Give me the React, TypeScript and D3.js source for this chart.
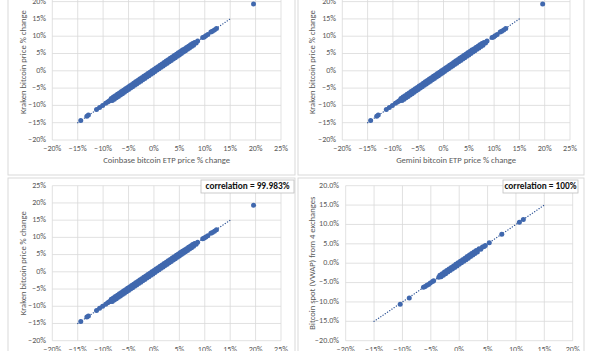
import * as d3 from "d3";

// % changes: [x, y]
const krakenVsCoinbase: [number, number][] = [
  [-14.4, -14.4], [-13.2, -13.1], [-12.9, -12.8], [-11.3, -11.2], [-10.7, -10.6],
  [-10.1, -10.0], [-9.5, -9.4], [-9.1, -9.0], [-8.8, -8.7],
  [-8.6, -8.6], [-8.4, -8.0], [-8.2, -8.6], [-8.0, -7.6], [-7.8, -8.2], [-7.6, -7.2],
  [-7.4, -7.8], [-7.2, -6.8], [-7.0, -7.4], [-6.8, -6.4], [-6.6, -7.0], [-6.4, -6.0],
  [-6.2, -6.6], [-6.0, -5.6], [-5.8, -6.2], [-5.6, -5.2], [-5.4, -5.8], [-5.2, -4.8],
  [-5.0, -5.4], [-4.8, -4.4], [-4.6, -5.0], [-4.4, -4.0], [-4.2, -4.6], [-4.0, -3.6],
  [-3.8, -4.2], [-3.6, -3.2], [-3.4, -3.8], [-3.2, -2.8], [-3.0, -3.4], [-2.8, -2.4],
  [-2.6, -3.0], [-2.4, -2.0], [-2.2, -2.6], [-2.0, -1.6], [-1.8, -2.2], [-1.6, -1.2],
  [-1.4, -1.8], [-1.2, -0.8], [-1.0, -1.4], [-0.8, -0.4], [-0.6, -1.0], [-0.4, 0.0],
  [-0.2, -0.6], [0.0, 0.4], [0.2, -0.2], [0.4, 0.8], [0.6, 0.2], [0.8, 1.2], [1.0, 0.6],
  [1.2, 1.6], [1.4, 1.0], [1.6, 2.0], [1.8, 1.4], [2.0, 2.4], [2.2, 1.8], [2.4, 2.8],
  [2.6, 2.2], [2.8, 3.2], [3.0, 2.6], [3.2, 3.6], [3.4, 3.0], [3.6, 4.0], [3.8, 3.4],
  [4.0, 4.4], [4.2, 3.8], [4.4, 4.8], [4.6, 4.2], [4.8, 5.2], [5.0, 4.6], [5.2, 5.6],
  [5.4, 5.0], [5.6, 6.0], [5.8, 5.4], [6.0, 6.3], [6.2, 5.8], [6.4, 6.7], [6.6, 6.2],
  [6.8, 7.1], [7.0, 6.6], [7.2, 7.5], [7.4, 7.0], [7.6, 7.9], [7.8, 7.4], [8.0, 8.2],
  [8.3, 8.0], [8.6, 8.6],
  [9.6, 9.6], [9.9, 9.8], [10.2, 10.1], [10.6, 10.5], [11.2, 11.2], [11.5, 11.4],
  [11.9, 11.8], [12.3, 12.2], [19.6, 19.3],
];

// Gemini looks the same as Coinbase at this resolution
const krakenVsGemini = krakenVsCoinbase;

const spotVsExchange: [number, number][] = [
  [-10.4, -10.6], [-8.8, -9.0], [-6.3, -6.2], [-6.0, -6.0], [-5.7, -5.7], [-5.4, -5.5],
  [-5.1, -5.1], [-4.7, -4.7], [-4.5, -4.5],
  [-3.6, -3.6], [-3.4, -3.1], [-3.2, -3.5], [-3.0, -2.7], [-2.8, -3.1], [-2.6, -2.3],
  [-2.4, -2.7], [-2.2, -1.9], [-2.0, -2.3], [-1.8, -1.5], [-1.6, -1.9], [-1.4, -1.1],
  [-1.2, -1.5], [-1.0, -0.7], [-0.8, -1.1], [-0.6, -0.3], [-0.4, -0.7], [-0.2, 0.1],
  [0.0, -0.3], [0.2, 0.5], [0.4, 0.1], [0.6, 0.9], [0.8, 0.5], [1.0, 1.3], [1.2, 0.9],
  [1.4, 1.7], [1.6, 1.3], [1.8, 2.1], [2.0, 1.7], [2.2, 2.5], [2.4, 2.1], [2.6, 2.9],
  [2.8, 2.5], [3.0, 3.3], [3.2, 2.9], [3.5, 3.7], [3.8, 3.6], [4.1, 4.2], [4.4, 4.3],
  [4.6, 4.6], [5.3, 5.3], [7.5, 7.5], [10.6, 10.6], [11.3, 11.3],
];

// trendline end points (x in %)
const trendRange = [-15, 15];

const wideTicks = [-20, -15, -10, -5, 0, 5, 10, 15, 20, 25];
const narrowTicks = [-20, -15, -10, -5, 0, 5, 10, 15, 20];

const FONT = "Carlito, Calibri, 'Liberation Sans Narrow', Lato, sans-serif";
const DOT = "#4068ae";
const GRID = "#d9d9d9";
const LABEL = "#595959";

interface PanelProps {
  box: { x: number; y: number; w: number; h: number };
  data: [number, number][];
  xTicks: number[];
  yTicks: number[];
  xRange: [number, number];
  yRange: [number, number];
  yFormat: string;
  xTitle?: string;
  yTitle: string;
  labelRight: number;
  yTitleX: number;
  corr?: { text: string; x: number; w: number };
}

function Panel(p: PanelProps) {
  const x = d3
    .scaleLinear()
    .domain([p.xTicks[0], p.xTicks[p.xTicks.length - 1]])
    .range(p.xRange);
  const y = d3
    .scaleLinear()
    .domain([p.yTicks[0], p.yTicks[p.yTicks.length - 1]])
    .range(p.yRange);
  const fx = d3.format(".0%");
  const fy = d3.format(p.yFormat);
  const [x0, x1] = p.xRange;
  const [yb, yt] = p.yRange;
  const trend = d3
    .line<number>()
    .x((v) => x(v))
    .y((v) => y(v));

  return (
    <g>
      <rect x={p.box.x} y={p.box.y} width={p.box.w} height={p.box.h} fill="#fff" stroke={GRID} strokeWidth={1} />
      {p.xTicks.map((t) => (
        <line key={"vx" + t} x1={x(t)} x2={x(t)} y1={yb} y2={yt} stroke={GRID} strokeWidth={0.8} />
      ))}
      {p.yTicks.map((t) => (
        <line key={"hy" + t} x1={x0} x2={x1} y1={y(t)} y2={y(t)} stroke={GRID} strokeWidth={0.8} />
      ))}
      {p.yTicks
        .filter((t) => y(t) > -4)
        .map((t) => (
          <text key={"ly" + t} x={p.labelRight} y={y(t)} textAnchor="end" dominantBaseline="middle"
            fontSize={8} fill={LABEL} fontFamily={FONT}>
            {fy(t / 100)}
          </text>
        ))}
      {p.xTicks.map((t) => (
        <text key={"lx" + t} x={x(t)} y={yb + 9} textAnchor="middle" dominantBaseline="middle"
          fontSize={8} fill={LABEL} fontFamily={FONT}>
          {fx(t / 100)}
        </text>
      ))}
      {p.xTitle && (
        <text x={(x0 + x1) / 2} y={yb + 21} textAnchor="middle" dominantBaseline="middle"
          fontSize={8.6} fill={LABEL} fontFamily={FONT}>
          {p.xTitle}
        </text>
      )}
      <text transform={`translate(${p.yTitleX},${(yb + yt) / 2}) rotate(-90)`} textAnchor="middle"
        dominantBaseline="middle" fontSize={8.6} fill={LABEL} fontFamily={FONT}>
        {p.yTitle}
      </text>
      <path d={trend(trendRange) ?? ""} fill="none" stroke="#2f5597" strokeWidth={1.3}
        strokeDasharray="0.1,2.6" strokeLinecap="round" />
      {p.data.map(([a, b], i) => (
        <circle key={i} cx={x(a)} cy={y(b)} r={2.5} fill={DOT} />
      ))}
      {p.corr && (
        <g>
          <rect x={p.corr.x} y={p.box.y + 2} width={p.corr.w} height={13} fill="#fff" stroke="#bfbfbf" strokeWidth={0.8} />
          <text x={p.corr.x + p.corr.w / 2} y={p.box.y + 8.8} textAnchor="middle" dominantBaseline="middle"
            fontSize={9.3} fontWeight={600} fill="#111" fontFamily={FONT}>
            {p.corr.text}
          </text>
        </g>
      )}
    </g>
  );
}

export default function App() {
  return (
    <svg width={600} height={351} style={{ position: "absolute", left: 0, top: 0, background: "#fff" }}>
      <Panel
        box={{ x: 8, y: -20, w: 287, h: 195 }}
        data={krakenVsCoinbase}
        xTicks={wideTicks}
        yTicks={wideTicks}
        xRange={[52.3, 281]}
        yRange={[140, -15.7]}
        yFormat=".0%"
        xTitle="Coinbase bitcoin ETP price % change"
        yTitle="Kraken bitcoin price % change"
        labelRight={46}
        yTitleX={24}
      />
      <Panel
        box={{ x: 298, y: -20, w: 286, h: 195 }}
        data={krakenVsGemini}
        xTicks={wideTicks}
        yTicks={wideTicks}
        xRange={[342.3, 570]}
        yRange={[140, -15.7]}
        yFormat=".0%"
        xTitle="Gemini bitcoin ETP price % change"
        yTitle="Kraken bitcoin price % change"
        labelRight={336}
        yTitleX={313}
      />
      <Panel
        box={{ x: 8, y: 178, w: 287, h: 200 }}
        data={krakenVsCoinbase}
        xTicks={wideTicks}
        yTicks={wideTicks}
        xRange={[52.3, 281]}
        yRange={[340.7, 185.7]}
        yFormat=".0%"
        yTitle="Kraken bitcoin price % change"
        labelRight={46}
        yTitleX={24}
        corr={{ text: "correlation = 99.983%", x: 201, w: 93 }}
      />
      <Panel
        box={{ x: 298, y: 178, w: 286, h: 200 }}
        data={spotVsExchange}
        xTicks={narrowTicks}
        yTicks={narrowTicks}
        xRange={[345.7, 572.7]}
        yRange={[340.7, 185.7]}
        yFormat=".1%"
        yTitle="Bitcoin spot (VWAP) from 4 exchanges"
        labelRight={339}
        yTitleX={313}
        corr={{ text: "correlation = 100%", x: 503, w: 75 }}
      />
    </svg>
  );
}
